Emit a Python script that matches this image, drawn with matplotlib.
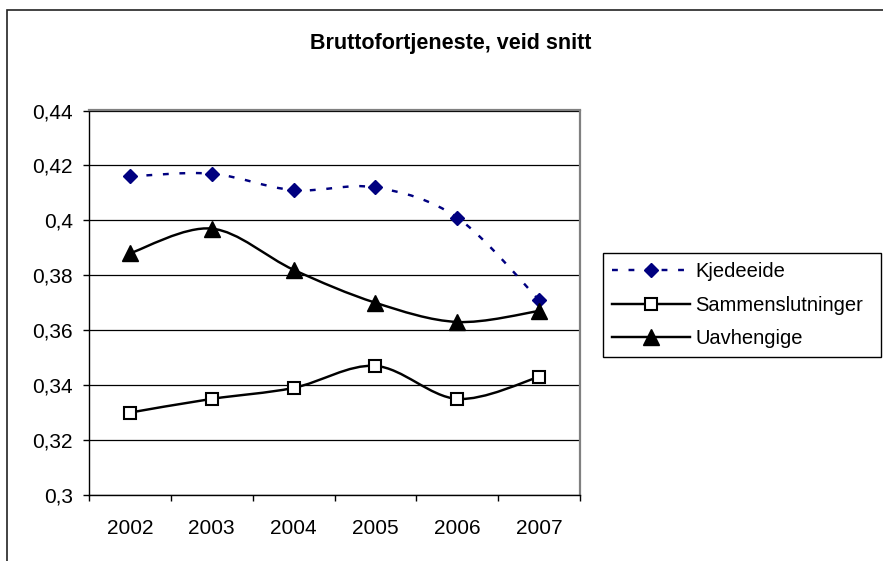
#!/usr/bin/env python3
"""Bruttofortjeneste, veid snitt - linjediagram med glattede kurver (Excel-stil)."""
import numpy as np
import matplotlib
matplotlib.use("Agg")
import matplotlib.pyplot as plt
from matplotlib.path import Path
from matplotlib.patches import PathPatch, Rectangle
from matplotlib.lines import Line2D
from matplotlib.ticker import FuncFormatter, MultipleLocator

plt.rcParams["font.family"] = ["Liberation Sans", "DejaVu Sans"]

years = ["2002", "2003", "2004", "2005", "2006", "2007"]
kjedeeide = [0.416, 0.417, 0.411, 0.412, 0.401, 0.371]
sammenslutninger = [0.330, 0.335, 0.339, 0.347, 0.335, 0.343]
uavhengige = [0.388, 0.397, 0.382, 0.370, 0.363, 0.367]

NAVY = "#000080"


def smooth_path(xs, ys):
    """Catmull-Rom som Bezier-kurver, slik Excel glatter linjer."""
    pts = np.column_stack([xs, ys]).astype(float)
    n = len(pts)
    verts = [pts[0]]
    codes = [Path.MOVETO]
    for i in range(n - 1):
        p0 = pts[max(i - 1, 0)]
        p1 = pts[i]
        p2 = pts[i + 1]
        p3 = pts[min(i + 2, n - 1)]
        c1 = p1 + (p2 - p0) / 6.0
        c2 = p2 - (p3 - p1) / 6.0
        verts += [c1, c2, p2]
        codes += [Path.CURVE4] * 3
    return Path(verts, codes)


fig = plt.figure(figsize=(8.83, 5.61), dpi=100)
W, H = 883, 561

# ytre ramme rundt diagrammet (beskåret til høyre og nede)
fig.add_artist(Rectangle((7 / W, -0.05), 1.2, 1 - 10 / H + 0.05,
                         transform=fig.transFigure, fill=False,
                         edgecolor="#222222", lw=1.2))

ax = fig.add_axes([89 / W, 66 / H, 491 / W, 384.5 / H])
x = np.arange(len(years))

series = [
    (kjedeeide, "Kjedeeide", dict(color=NAVY, ls=(0, (2.4, 4.4)), marker="D",
                                  ms=7, mfc=NAVY, mec=NAVY)),
    (sammenslutninger, "Sammenslutninger", dict(color="black", ls="-", marker="s",
                                                 ms=9, mfc="white", mec="black", mew=1.5)),
    (uavhengige, "Uavhengige", dict(color="black", ls="-", marker="^",
                                     ms=11, mfc="black", mec="black")),
]

handles = []
for vals, name, st in series:
    patch = PathPatch(smooth_path(x, vals), fill=False, edgecolor=st["color"],
                      lw=1.75, linestyle=st["ls"], zorder=3, capstyle="butt")
    ax.add_patch(patch)
    ax.plot(x, vals, ls="none", marker=st["marker"], ms=st["ms"], mfc=st["mfc"],
            mec=st["mec"], mew=st.get("mew", 1.0), zorder=4, clip_on=False)
    handles.append(Line2D([], [], color=st["color"], lw=1.75, ls=st["ls"],
                          marker=st["marker"], ms=st["ms"], mfc=st["mfc"],
                          mec=st["mec"], mew=st.get("mew", 1.0), label=name))

# akser
ax.set_xlim(-0.5, len(years) - 0.5)
ax.set_ylim(0.30, 0.44)
ax.set_xticks(x)
ax.set_xticklabels(years)
ax.set_xticks(np.arange(-0.5, len(years)), minor=True)
ax.yaxis.set_major_locator(MultipleLocator(0.02))
ax.yaxis.set_major_formatter(FuncFormatter(lambda v, _: f"{v:g}".replace(".", ",")))
ax.tick_params(axis="x", which="major", length=0, pad=17, labelsize=15)
ax.tick_params(axis="x", which="minor", length=4.5, width=1, direction="out")
ax.tick_params(axis="y", length=4.5, width=1, direction="out", pad=7, labelsize=15)

ax.grid(axis="y", color="black", lw=0.9)
ax.set_axisbelow(True)
for side in ("left", "bottom"):
    ax.spines[side].set_color("black")
    ax.spines[side].set_linewidth(1)
for side in ("top", "right"):
    ax.spines[side].set_color("#808080")
    ax.spines[side].set_linewidth(1.6)

fig.text(451 / W, 1 - 43 / H, "Bruttofortjeneste, veid snitt", ha="center",
         va="center", fontsize=15.5, fontweight="bold")

# forklaring, strukket ut til samme bredde som i Excel
leg = fig.legend(handles=handles, loc="upper left", mode="expand",
                 bbox_to_anchor=(603 / W, 1 - 353 / H, 278 / W, 100 / H),
                 borderaxespad=0, fontsize=14.5, frameon=True, fancybox=False,
                 edgecolor="black", framealpha=1, borderpad=0.45,
                 handlelength=3.85, handletextpad=0.3, labelspacing=0.72)
leg.get_frame().set_linewidth(1)

fig.savefig("out.png", dpi=100)
